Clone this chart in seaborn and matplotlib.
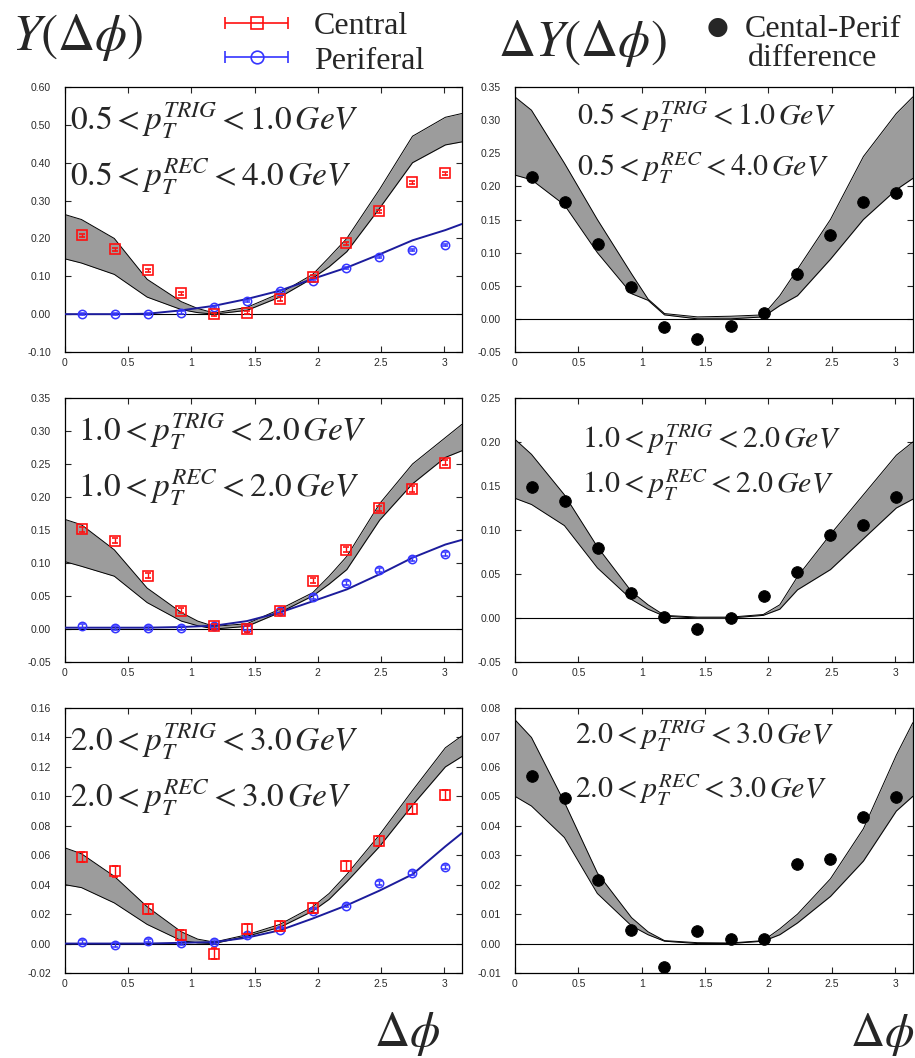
import numpy as np
import matplotlib
matplotlib.use("Agg")
import matplotlib.pyplot as plt
import seaborn as sns
from matplotlib.ticker import MultipleLocator, FormatStrFormatter
from matplotlib.legend_handler import HandlerErrorbar
from matplotlib.container import ErrorbarContainer

sns.set_style("ticks")
plt.rcParams['font.family'] = ['Liberation Sans', 'DejaVu Sans']
plt.rcParams['mathtext.fontset'] = 'stix'

# bin centres in delta phi
dphi = [0.131, 0.393, 0.654, 0.916, 1.178, 1.440, 1.702, 1.963, 2.225, 2.487, 2.749, 3.011]
# grid for the model bands and the peripheral fit
band_x = [0, 0.13, 0.39, 0.65, 0.92, 1.05, 1.18, 1.44, 1.70, 1.96, 2.09, 2.23, 2.49, 2.75, 3.01, 3.14]
fit_x = [0, 0.39, 0.65, 0.92, 1.18, 1.44, 1.70, 1.96, 2.23, 2.49, 2.75, 3.01, 3.14]

# ---- row 1: 0.5<pT trig<1.0, 0.5<pT rec<4.0
central_1 = [0.209, 0.172, 0.1165, 0.055, 0.0, 0.0035, 0.040, 0.099, 0.187, 0.272, 0.349, 0.372]
perif_1 = [0.0, 0.0, 0.0, 0.004, 0.019, 0.035, 0.060, 0.088, 0.121, 0.150, 0.170, 0.183]
fit_1 = [0.0, 0.0, 0.001, 0.010, 0.022, 0.040, 0.062, 0.093, 0.123, 0.158, 0.195, 0.222, 0.238]
band_lo_1 = [0.146, 0.135, 0.105, 0.045, 0.012, 0.004, 0.0, 0.010, 0.045, 0.095, 0.125, 0.165, 0.28, 0.40, 0.447, 0.455]
band_hi_1 = [0.263, 0.25, 0.20, 0.092, 0.033, 0.015, 0.003, 0.018, 0.055, 0.105, 0.15, 0.20, 0.33, 0.47, 0.52, 0.53]
diff_1 = [0.214, 0.176, 0.113, 0.048, -0.013, -0.030, -0.011, 0.0096, 0.067, 0.127, 0.177, 0.190]
dband_lo_1 = [0.217, 0.21, 0.172, 0.10, 0.038, 0.028, 0.006, 0.0, 0.0, 0.003, 0.02, 0.035, 0.09, 0.15, 0.195, 0.212]
dband_hi_1 = [0.335, 0.315, 0.235, 0.15, 0.068, 0.030, 0.008, 0.003, 0.004, 0.006, 0.035, 0.075, 0.15, 0.245, 0.31, 0.335]

# ---- row 2: 1.0<pT trig<2.0, 1.0<pT rec<2.0
central_2 = [0.151, 0.134, 0.081, 0.028, 0.004, 0.0, 0.027, 0.073, 0.120, 0.183, 0.212, 0.252]
perif_2 = [0.005, 0.002, 0.002, 0.002, 0.005, 0.002, 0.027, 0.049, 0.069, 0.089, 0.106, 0.114]
fit_2 = [0.002, 0.002, 0.002, 0.003, 0.005, 0.012, 0.025, 0.042, 0.060, 0.083, 0.108, 0.128, 0.135]
band_lo_2 = [0.102, 0.095, 0.08, 0.04, 0.012, 0.005, 0.0, 0.004, 0.025, 0.05, 0.068, 0.09, 0.165, 0.22, 0.26, 0.27]
band_hi_2 = [0.166, 0.158, 0.12, 0.062, 0.025, 0.012, 0.004, 0.008, 0.03, 0.055, 0.08, 0.11, 0.19, 0.25, 0.29, 0.31]
diff_2 = [0.149, 0.133, 0.080, 0.028, 0.001, -0.013, 0.0, 0.025, 0.052, 0.094, 0.106, 0.137]
dband_lo_2 = [0.136, 0.129, 0.105, 0.057, 0.021, 0.010, 0.002, 0.0, 0.0, 0.003, 0.010, 0.032, 0.055, 0.09, 0.125, 0.135]
dband_hi_2 = [0.203, 0.186, 0.14, 0.081, 0.030, 0.015, 0.003, 0.001, 0.001, 0.004, 0.015, 0.047, 0.095, 0.14, 0.185, 0.20]

# ---- row 3: 2.0<pT trig<3.0, 2.0<pT rec<3.0
central_3 = [0.0586, 0.049, 0.0235, 0.006, -0.0068, 0.010, 0.0118, 0.024, 0.0525, 0.0695, 0.0916, 0.101]
perif_3 = [0.001, -0.001, 0.002, 0.0005, 0.001, 0.0057, 0.0095, 0.022, 0.0258, 0.041, 0.048, 0.052]
fit_3 = [0.0, 0.0, 0.0, 0.0005, 0.001, 0.004, 0.009, 0.017, 0.026, 0.036, 0.047, 0.066, 0.075]
band_lo_3 = [0.040, 0.038, 0.0276, 0.013, 0.002, 0.0005, 0.0, 0.005, 0.011, 0.022, 0.03, 0.042, 0.066, 0.094, 0.12, 0.127]
band_hi_3 = [0.065, 0.061, 0.0457, 0.025, 0.008, 0.003, 0.001, 0.006, 0.013, 0.025, 0.034, 0.047, 0.074, 0.104, 0.133, 0.141]
diff_3 = [0.0568, 0.0493, 0.0217, 0.0045, -0.0079, 0.0041, 0.0017, 0.0015, 0.027, 0.0286, 0.0429, 0.0497]
dband_lo_3 = [0.050, 0.0467, 0.036, 0.017, 0.006, 0.003, 0.0008, 0.0, 0.0, 0.0008, 0.003, 0.007, 0.016, 0.028, 0.045, 0.050]
dband_hi_3 = [0.076, 0.070, 0.048, 0.024, 0.0088, 0.004, 0.001, 0.0003, 0.0002, 0.001, 0.005, 0.010, 0.022, 0.039, 0.064, 0.075]

err_c = [0.004, 0.004, 0.0035]
err_p = [0.003, 0.003, 0.0012]

trig_labels = ["0.5 < p_T^{TRIG} < 1.0", "1.0 < p_T^{TRIG} < 2.0", "2.0 < p_T^{TRIG} < 3.0"]
rec_labels = ["0.5 < p_T^{REC} < 4.0", "1.0 < p_T^{REC} < 2.0", "2.0 < p_T^{REC} < 3.0"]

left_ylim = [(-0.10, 0.60), (-0.05, 0.35), (-0.02, 0.16)]
left_step = [0.10, 0.05, 0.02]
right_ylim = [(-0.05, 0.35), (-0.05, 0.25), (-0.01, 0.08)]
right_step = [0.05, 0.05, 0.01]

central = [central_1, central_2, central_3]
perif = [perif_1, perif_2, perif_3]
fits = [fit_1, fit_2, fit_3]
bands = [(band_lo_1, band_hi_1), (band_lo_2, band_hi_2), (band_lo_3, band_hi_3)]
diffs = [diff_1, diff_2, diff_3]
dbands = [(dband_lo_1, dband_hi_1), (dband_lo_2, dband_hi_2), (dband_lo_3, dband_hi_3)]

RED = '#ff1010'
BLUE = '#3535ff'
NAVY = '#1c1c9c'
GREY = '#9c9c9c'
TICKC = '#2a2a2a'

fig = plt.figure(figsize=(9.15, 10.58), dpi=100)
W, H = 915.0, 1058.0
rows_px = [(87, 352), (398, 662), (708, 973)]


def style_axes(ax, ylim, step):
    ax.set_xlim(0, np.pi)
    ax.set_ylim(*ylim)
    ax.xaxis.set_major_locator(MultipleLocator(0.5))
    ax.xaxis.set_major_formatter(FormatStrFormatter('%g'))
    ax.yaxis.set_major_locator(MultipleLocator(step))
    ax.yaxis.set_major_formatter(FormatStrFormatter('%.2f'))
    ax.tick_params(direction='in', top=True, right=True, length=4, width=0.8,
                   labelsize=7.5, labelcolor=TICKC)
    ax.tick_params(axis='y', pad=10)
    ax.tick_params(axis='x', pad=4)
    for s in ax.spines.values():
        s.set_linewidth(0.9)
        s.set_color('black')
    ax.axhline(0, color='black', lw=0.8, zorder=1)
    ax.set_xlabel('')
    ax.set_ylabel('')


def draw_band(ax, lo, hi):
    ax.fill_between(band_x, lo, hi, color=GREY, lw=0, zorder=2)
    sns.lineplot(x=band_x, y=lo, ax=ax, color='black', lw=0.7, sort=False, estimator=None, zorder=3)
    sns.lineplot(x=band_x, y=hi, ax=ax, color='black', lw=0.7, sort=False, estimator=None, zorder=3)


for i in range(3):
    top, bot = rows_px[i]
    y0 = 1 - bot / H
    h = (bot - top) / H

    # left: central / peripheral yields
    axl = fig.add_axes([65 / W, y0, 397 / W, h])
    draw_band(axl, *bands[i])
    sns.lineplot(x=fit_x, y=fits[i], ax=axl, color=NAVY, lw=1.4, sort=False, estimator=None, zorder=4)
    axl.errorbar(dphi, perif[i], yerr=err_p[i], fmt='o', ms=6, mfc='none', mec=BLUE, mew=1.1,
                 ecolor=BLUE, elinewidth=1.0, capsize=2.5, zorder=5)
    axl.errorbar(dphi, central[i], yerr=err_c[i], fmt='s', ms=6.5, mfc='none', mec=RED, mew=1.2,
                 ecolor=RED, elinewidth=1.0, capsize=2.5, zorder=6)
    style_axes(axl, left_ylim[i], left_step[i])
    axl.text(0.013 if i != 1 else 0.033, 0.872, "$" + trig_labels[i] + r"\,GeV$", transform=axl.transAxes,
             fontsize=24, ha='left', va='center')
    axl.text(0.013 if i != 1 else 0.033, 0.66, "$" + rec_labels[i] + r"\,GeV$", transform=axl.transAxes,
             fontsize=24, ha='left', va='center')

    # right: central - peripheral difference
    axr = fig.add_axes([515 / W, y0, 398 / W, h])
    draw_band(axr, *dbands[i])
    sns.scatterplot(x=dphi, y=diffs[i], ax=axr, color='black', s=70, edgecolor='black', zorder=6)
    style_axes(axr, right_ylim[i], right_step[i])
    xr = [0.156, 0.168, 0.151][i]
    axr.text(xr, [0.887, 0.84, 0.892][i], "$" + trig_labels[i] + r"\,GeV$", transform=axr.transAxes,
             fontsize=21.5, ha='left', va='center')
    axr.text(xr, [0.694, 0.67, 0.69][i], "$" + rec_labels[i] + r"\,GeV$", transform=axr.transAxes,
             fontsize=21.5, ha='left', va='center')

    if i == 0:
        # legend keys only (not drawn inside the axes)
        key_c = axl.errorbar([np.nan], [np.nan], xerr=[1.0], fmt='s', ms=6.5, mfc='none', mec=RED, mew=1.2,
                             ecolor=RED, elinewidth=1.2, capsize=4)
        key_p = axl.errorbar([np.nan], [np.nan], xerr=[1.0], fmt='o', ms=6.5, mfc='none', mec=BLUE, mew=1.2,
                             ecolor=BLUE, elinewidth=1.2, capsize=4)

# headers and axis titles
fig.legend(handles=[key_c, key_p], labels=['Central', 'Periferal'], loc='upper left',
           bbox_to_anchor=(223 / W, 1 - 12 / H), frameon=False,
           prop={'family': 'Liberation Serif', 'size': 23}, handlelength=2.1, handletextpad=0.75,
           labelspacing=0.15, borderpad=0, borderaxespad=0, numpoints=1, markerscale=1.4,
           handler_map={ErrorbarContainer: HandlerErrorbar(xerr_size=1.0)})

fig.text(12 / W, 1 - 50 / H, r"$Y(\Delta\phi)$", fontsize=37, ha='left', va='baseline')
fig.text(498 / W, 1 - 56 / H, r"$\Delta Y(\Delta\phi)$", fontsize=37, ha='left', va='baseline')
fig.text(718 / W, 1 - 27 / H, "\u25cf", fontsize=18, ha='center', va='center', family=['DejaVu Sans'])
fig.text(745 / W, 1 - 37 / H, "Cental-Perif", fontsize=23, ha='left', va='baseline', family=['Liberation Serif'])
fig.text(748 / W, 1 - 66 / H, "difference", fontsize=23, ha='left', va='baseline', family=['Liberation Serif'])
fig.text(374 / W, 1 - 1046 / H, r"$\Delta\phi$", fontsize=35, ha='left', va='baseline')
fig.text(850 / W, 1 - 1046 / H, r"$\Delta\phi$", fontsize=34, ha='left', va='baseline')

fig.savefig('out.png', dpi=100)
